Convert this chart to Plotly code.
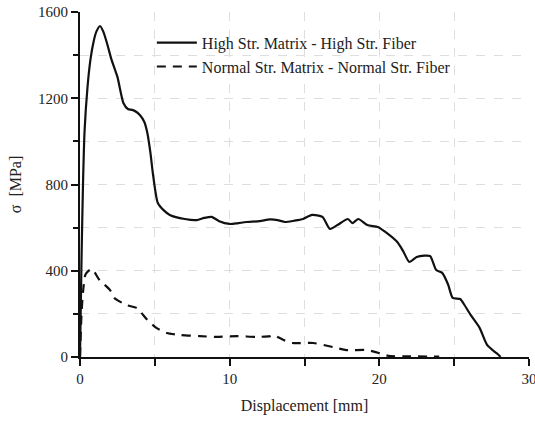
import plotly.graph_objects as go

# High Str. Matrix - High Str. Fiber
hs_x = [0, 0.1, 0.2, 0.3, 0.5, 0.7, 0.9, 1.1, 1.34, 1.55, 1.8, 2.1, 2.5, 2.9, 3.2, 3.5, 3.8, 4.0, 4.3, 4.5, 4.7, 4.9, 5.2, 5.6, 6.0, 7.0, 7.8, 8.3, 8.8, 9.3, 10.0, 10.5, 11.1, 12.0, 12.7, 13.2, 13.7, 14.3, 14.9, 15.5, 16.2, 16.7, 17.2, 17.9, 18.2, 18.6, 19.2, 19.9, 20.4, 21.2, 21.6, 22.0, 22.5, 23.0, 23.4, 23.8, 24.2, 24.6, 24.9, 25.4, 25.7, 26.1, 26.7, 27.2, 27.6, 27.9, 28.1]
hs_y = [0, 450, 800, 1040, 1250, 1380, 1460, 1510, 1535, 1510, 1456, 1380, 1299, 1178, 1150, 1146, 1135, 1122, 1090, 1039, 950, 835, 714, 680, 659, 640, 635, 645, 650, 630, 617, 620, 626, 630, 638, 635, 626, 632, 640, 659, 650, 594, 612, 640, 621, 640, 612, 603, 580, 533, 490, 441, 464, 470, 468, 403, 390, 335, 274, 269, 240, 195, 135, 56, 30, 14, 0]

# Normal Str. Matrix - Normal Str. Fiber
ns_x = [0, 0.1, 0.2, 0.35, 0.5, 0.8, 1.3, 2.0, 2.3, 3.1, 3.8, 4.5, 5.1, 5.8, 6.7, 8.0, 9.1, 10.5, 11.8, 12.7, 12.9, 13.6, 14.2, 15.6, 16.9, 17.8, 19.2, 20.2, 20.6, 22.0, 24.0]
ns_y = [0, 200, 300, 380, 395, 408, 357, 311, 274, 241, 227, 172, 135, 111, 102, 97, 93, 97, 93, 97, 102, 79, 65, 65, 46, 32, 32, 14, 5, 3, 2]

x_ticks = [0, 10, 20, 30]
y_ticks = [0, 400, 800, 1200, 1600]

FONT = "'Liberation Serif', 'Times New Roman', 'DejaVu Serif', 'Noto Serif', serif"

fig = go.Figure()
fig.add_trace(go.Scatter(x=hs_x, y=hs_y, mode="lines", name="High Str. Matrix - High Str. Fiber",
                         line=dict(color="#111111", width=2.2, shape="spline", smoothing=0.6)))
fig.add_trace(go.Scatter(x=ns_x, y=ns_y, mode="lines", name="Normal Str. Matrix - Normal Str. Fiber",
                         line=dict(color="#111111", width=2.2, dash="9px,7px", shape="spline", smoothing=0.6)))

grid = dict(showgrid=True, gridcolor="#dedede", griddash="dash", gridwidth=1)
fig.update_xaxes(range=[0, 30], tickvals=x_ticks, ticks="outside", ticklen=7, tickwidth=2, tickcolor="#111",
                 showline=True, linecolor="#111", linewidth=2, zeroline=False, ticklabeloverflow="allow",
                 automargin=False,
                 minor=dict(dtick=5, ticks="outside", ticklen=7, tickwidth=2, tickcolor="#111",
                            showgrid=True, gridcolor="#dedede", griddash="dash", gridwidth=1),
                 title=dict(text="Displacement [mm]", font=dict(size=16, family=FONT, color="#222"), standoff=14),
                 tickfont=dict(size=15, family=FONT, color="#222"), **grid)
fig.update_yaxes(range=[0, 1600], tickvals=y_ticks, ticks="outside", ticklen=7, tickwidth=2, tickcolor="#111",
                 showline=True, linecolor="#111", linewidth=2, zeroline=False, automargin=False,
                 minor=dict(dtick=200, ticks="outside", ticklen=5, tickwidth=2, tickcolor="#111",
                            showgrid=True, gridcolor="#dedede", griddash="dash", gridwidth=1),
                 title=dict(text="σ  [MPa]", font=dict(size=16, family=FONT, color="#222"), standoff=12),
                 tickfont=dict(size=15, family=FONT, color="#222"), **grid)

fig.update_layout(width=535, height=424, margin=dict(l=80, r=6, t=12, b=67),
                  paper_bgcolor="white", plot_bgcolor="white",
                  font=dict(family=FONT, color="#222"),
                  legend=dict(x=0.16, y=0.96, xanchor="left", yanchor="top", bgcolor="rgba(0,0,0,0)",
                              font=dict(size=16, family=FONT, color="#222"), tracegroupgap=0, itemwidth=40))
fig.write_html("out.html")
